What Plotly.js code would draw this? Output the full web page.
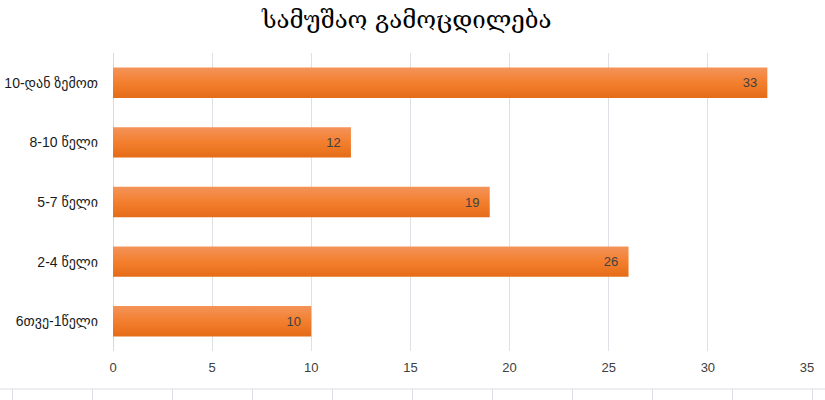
<!DOCTYPE html>
<html>
<head>
<meta charset="utf-8">
<script src="https://cdn.plot.ly/plotly-3.0.1.min.js"></script>
<style>
html,body{margin:0;padding:0;background:#fff;}
#chart{width:825px;height:400px;}
</style>
</head>
<body>
<div id="chart"></div>
<script>
const categories = ["6თვე-1წელი", "2-4 წელი", "5-7 წელი", "8-10 წელი", "10-დან ზემოთ"];
const values = [10, 26, 19, 12, 33];
const titleText = "სამუშაო გამოცდილება";
const xTicks = [0, 5, 10, 15, 20, 25, 30, 35];

const W = 825, H = 400, mL = 113, mR = 18, mT = 53, mB = 49;
const pw = W - mL - mR, ph = H - mT - mB;
const shapes = [];
// decorative spreadsheet cell lines at the bottom
const lineY = (H - mB - 389) / ph;
shapes.push({type:'line', xref:'paper', yref:'paper', x0:(0-mL)/pw, x1:(W-mL)/pw, y0:lineY, y1:lineY, line:{color:'#dadde2', width:1}});
for (let px = 12.5; px < W; px += 80) {
  shapes.push({type:'line', xref:'paper', yref:'paper', x0:(px-mL)/pw, x1:(px-mL)/pw, y0:lineY, y1:(H-mB-400)/ph, line:{color:'#dadde2', width:1}});
}

const trace = {
  type: 'bar',
  orientation: 'h',
  y: categories,
  x: values,
  text: values.map(function(v){ return String(v) + '\u00a0\u00a0'; }),
  textposition: 'inside',
  insidetextanchor: 'end',
  constraintext: 'none',
  textfont: {family: 'Liberation Sans, DejaVu Sans, sans-serif', size: 13, color: '#404040'},
  marker: {color: '#F27E2E', line: {width: 0}},
  hoverinfo: 'none'
};

const layout = {
  width: W, height: H,
  margin: {l: mL, r: mR, t: mT, b: mB},
  paper_bgcolor: '#ffffff', plot_bgcolor: '#ffffff',
  title: {text: titleText, x: 0.493, xanchor: 'center', y: 1 - 20/400, yanchor: 'middle', yref: 'container',
          font: {family: 'DejaVu Serif, DejaVu Sans, serif', size: 24, color: '#000000'}},
  bargap: 0.49,
  showlegend: false,
  xaxis: {range: [0, 35], tickvals: xTicks, ticktext: xTicks.map(String), showgrid: true, gridcolor: '#dde1e6', gridwidth: 1,
          zeroline: true, zerolinecolor: '#d5dbe3', zerolinewidth: 1, showline: false, ticks: '', ticklabelstandoff: 7,
          tickfont: {family: 'Liberation Sans, DejaVu Sans, sans-serif', size: 13, color: '#404040'}, fixedrange: true},
  yaxis: {type: 'category', categoryorder: 'array', categoryarray: categories, showgrid: false, zeroline: false,
          showline: false, ticks: '', ticklabelstandoff: 14,
          tickfont: {family: 'Liberation Sans, DejaVu Sans, sans-serif', size: 14, color: '#1a1a1a'}, fixedrange: true},
  shapes: shapes
};

Plotly.newPlot('chart', [trace], layout, {displayModeBar: false, staticPlot: true}).then(function(gd){
  const svg = gd.querySelector('svg.main-svg');
  const ns = 'http://www.w3.org/2000/svg';
  let defs = svg.querySelector('defs');
  if (!defs) { defs = document.createElementNS(ns, 'defs'); svg.insertBefore(defs, svg.firstChild); }
  const g = document.createElementNS(ns, 'linearGradient');
  g.setAttribute('id', 'barGrad');
  g.setAttribute('x1', '0'); g.setAttribute('y1', '0'); g.setAttribute('x2', '0'); g.setAttribute('y2', '1');
  [['0', '#F4935A'], ['0.5', '#F37F2E'], ['1', '#E56C17']].forEach(function(s){
    const st = document.createElementNS(ns, 'stop');
    st.setAttribute('offset', s[0]); st.setAttribute('stop-color', s[1]);
    g.appendChild(st);
  });
  defs.appendChild(g);
  gd.querySelectorAll('.bars .point path').forEach(function(p){ p.style.fill = 'url(#barGrad)'; });
});
</script>
</body>
</html>
